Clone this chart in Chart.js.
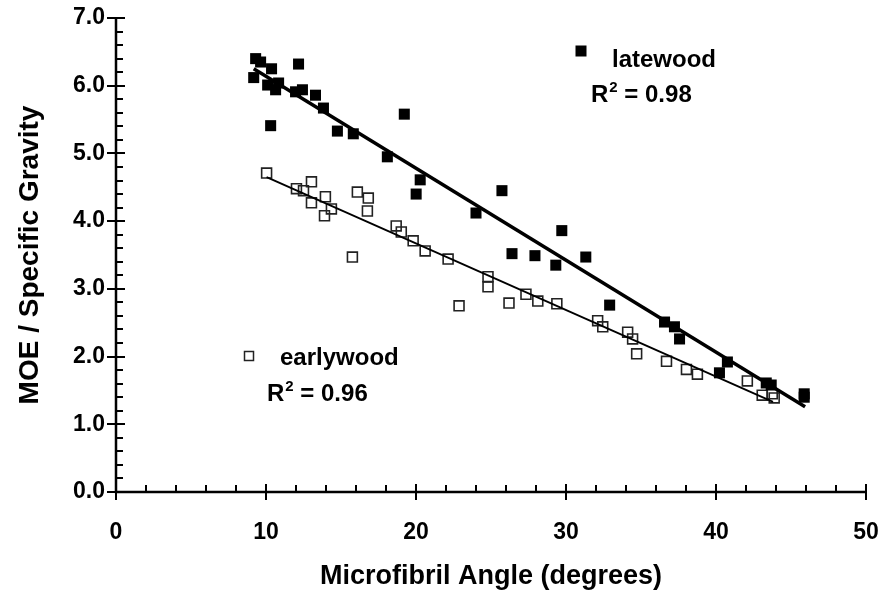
<!DOCTYPE html>
<html><head><meta charset="utf-8">
<script src="https://cdn.jsdelivr.net/npm/chart.js@4"></script>
<style>html,body{margin:0;padding:0;background:#fff}#wrap{width:882px;height:592px}</style>
</head><body><div id="wrap"><canvas id="c" width="882" height="592"></canvas></div>
<script>
const xTitle = 'Microfibril Angle (degrees)';
const yTitle = 'MOE / Specific Gravity';
const xTickLabels = ['0', '10', '20', '30', '40', '50'];
const yTickLabels = ['0.0', '1.0', '2.0', '3.0', '4.0', '5.0', '6.0', '7.0'];
const seriesNames = ['latewood', 'earlywood'];
const rSquared = ['0.98', '0.96'];

const latewoodAngle = [9.18, 9.31, 9.64, 10.11, 10.37, 10.31, 10.64, 10.84, 11.97, 12.17, 12.43, 13.30, 13.83, 14.76, 15.82, 18.09, 19.22, 20.01, 20.28, 24.00, 25.73, 26.40, 27.93, 29.32, 29.72, 31.32, 32.91, 36.57, 37.23, 37.57, 40.23, 40.76, 43.35, 43.68, 45.88, 45.88];
const latewoodMOE   = [6.12, 6.40, 6.35, 6.01, 6.25, 5.41, 5.94, 6.04, 5.91, 6.32, 5.94, 5.86, 5.67, 5.33, 5.29, 4.95, 5.58, 4.40, 4.61, 4.12, 4.45, 3.52, 3.49, 3.35, 3.86, 3.47, 2.76, 2.51, 2.44, 2.26, 1.76, 1.92, 1.61, 1.58, 1.45, 1.40];

const earlywoodAngle = [10.04, 12.03, 12.50, 13.03, 13.03, 13.96, 14.36, 13.90, 16.09, 16.82, 16.76, 15.76, 18.68, 19.02, 19.81, 20.61, 22.14, 22.87, 24.80, 24.80, 26.20, 27.33, 28.12, 29.39, 32.11, 32.45, 34.11, 34.44, 34.71, 36.70, 38.03, 38.76, 42.09, 43.08, 43.75, 43.88];
const earlywoodMOE   = [4.71, 4.48, 4.45, 4.58, 4.27, 4.36, 4.18, 4.08, 4.43, 4.34, 4.15, 3.47, 3.93, 3.84, 3.71, 3.56, 3.44, 2.75, 3.18, 3.03, 2.79, 2.92, 2.82, 2.78, 2.53, 2.44, 2.36, 2.26, 2.04, 1.93, 1.81, 1.74, 1.64, 1.43, 1.45, 1.39];

const latewoodFitAngle = [9.18, 45.94];
const latewoodFitMOE   = [6.25, 1.26];
const earlywoodFitAngle = [10.04, 43.8];
const earlywoodFitMOE   = [4.65, 1.33];

const FONT = '"Liberation Sans", Arial, Helvetica, sans-serif';
const pts = (xs, ys) => xs.map((x, i) => ({x: x, y: ys[i]}));

const axesPlugin = {
  id: 'axesPlugin',
  afterDraw(chart) {
    const ctx = chart.ctx, xs = chart.scales.x, ys = chart.scales.y;
    const x0 = xs.getPixelForValue(0), x1 = xs.getPixelForValue(50);
    const y0 = ys.getPixelForValue(0), y1 = ys.getPixelForValue(7);
    ctx.save();
    ctx.strokeStyle = '#000';
    ctx.lineCap = 'butt';
    ctx.lineWidth = 2.5;
    ctx.beginPath();
    ctx.moveTo(x0, y1); ctx.lineTo(x0, y0 + 1.25);
    ctx.moveTo(x0 - 1.25, y0); ctx.lineTo(x1, y0);
    ctx.stroke();
    ctx.lineWidth = 2;
    ctx.beginPath();
    for (let i = 0; i <= 35; i++) {
      const v = i * 0.2;
      const py = Math.round(ys.getPixelForValue(v));
      if (i % 5 === 0) { ctx.moveTo(x0 - 9, py); ctx.lineTo(x0 + 9, py); }
      else { ctx.moveTo(x0, py); ctx.lineTo(x0 + 7, py); }
    }
    for (let i = 0; i <= 25; i++) {
      const v = i * 2;
      const px = Math.round(xs.getPixelForValue(v));
      if (i % 5 === 0) { ctx.moveTo(px, y0 - 8); ctx.lineTo(px, y0 + 8); }
      else { ctx.moveTo(px, y0); ctx.lineTo(px, y0 - 7); }
    }
    ctx.stroke();

    ctx.fillStyle = '#000';
    ctx.textAlign = 'center';
    ctx.textBaseline = 'alphabetic';
    ctx.font = 'bold 27px ' + FONT;
    ctx.fillText(xTitle, (x0 + x1) / 2, 584);
    ctx.save();
    ctx.font = 'bold 28px ' + FONT;
    ctx.translate(38, (y0 + y1) / 2);
    ctx.rotate(-Math.PI / 2);
    ctx.fillText(yTitle, 0, 0);
    ctx.restore();

    ctx.textAlign = 'left';
    const drawR2 = (x, y, val) => {
      ctx.font = 'bold 24px ' + FONT;
      ctx.fillText('R', x, y);
      let w = ctx.measureText('R').width;
      ctx.font = 'bold 15px ' + FONT;
      ctx.fillText('2', x + w + 1, y - 10);
      w += ctx.measureText('2').width + 1;
      ctx.font = 'bold 24px ' + FONT;
      ctx.fillText(' = ' + val, x + w, y);
    };
    ctx.fillRect(581 - 5.5, 51 - 5.5, 11, 11);
    ctx.font = 'bold 24px ' + FONT;
    ctx.fillText(seriesNames[0], 612, 67);
    drawR2(591, 102, rSquared[0]);
    ctx.lineWidth = 1.5;
    ctx.strokeStyle = '#222';
    ctx.strokeRect(249 - 4.5, 356 - 4.5, 9, 9);
    ctx.font = 'bold 24px ' + FONT;
    ctx.fillText(seriesNames[1], 280, 365);
    drawR2(267, 401, rSquared[1]);
    ctx.restore();
  }
};

new Chart(document.getElementById('c'), {
  type: 'scatter',
  data: {
    datasets: [
      { label: 'latewood fit', type: 'line', data: pts(latewoodFitAngle, latewoodFitMOE), borderColor: '#000', borderWidth: 3.5, pointRadius: 0, fill: false },
      { label: 'earlywood fit', type: 'line', data: pts(earlywoodFitAngle, earlywoodFitMOE), borderColor: '#000', borderWidth: 1.8, pointRadius: 0, fill: false },
      { label: seriesNames[0], data: pts(latewoodAngle, latewoodMOE), pointStyle: 'rect', pointRadius: 7.8, backgroundColor: '#000', borderColor: '#000', borderWidth: 0 },
      { label: seriesNames[1], data: pts(earlywoodAngle, earlywoodMOE), pointStyle: 'rect', pointRadius: 7, backgroundColor: 'rgba(0,0,0,0)', borderColor: '#222', borderWidth: 1.6 }
    ]
  },
  options: {
    responsive: false,
    animation: false,
    devicePixelRatio: 1,
    events: [],
    layout: { autoPadding: false, padding: { top: 18, right: 16, left: 0, bottom: 0 } },
    plugins: { legend: { display: false }, tooltip: { enabled: false } },
    scales: {
      x: {
        type: 'linear', min: 0, max: 50,
        afterFit(s) { s.height = 100; s.paddingLeft = 0; s.paddingRight = 0; },
        afterBuildTicks(s) { s.ticks = xTickLabels.map(t => ({ value: Number(t) })); },
        ticks: { callback: (v, i) => xTickLabels[i], color: '#000', font: { family: FONT, size: 23, weight: 'bold' }, padding: 27, maxRotation: 0 },
        grid: { display: false, drawTicks: false },
        border: { display: false }
      },
      y: {
        type: 'linear', min: 0, max: 7,
        afterFit(s) { s.width = 116; s.paddingTop = 0; s.paddingBottom = 0; },
        afterBuildTicks(s) { s.ticks = yTickLabels.map(t => ({ value: Number(t) })); },
        ticks: { callback: (v, i) => yTickLabels[i], color: '#000', font: { family: FONT, size: 23, weight: 'bold' }, padding: 11 },
        grid: { display: false, drawTicks: false },
        border: { display: false }
      }
    }
  },
  plugins: [axesPlugin]
});
</script>
</body></html>
